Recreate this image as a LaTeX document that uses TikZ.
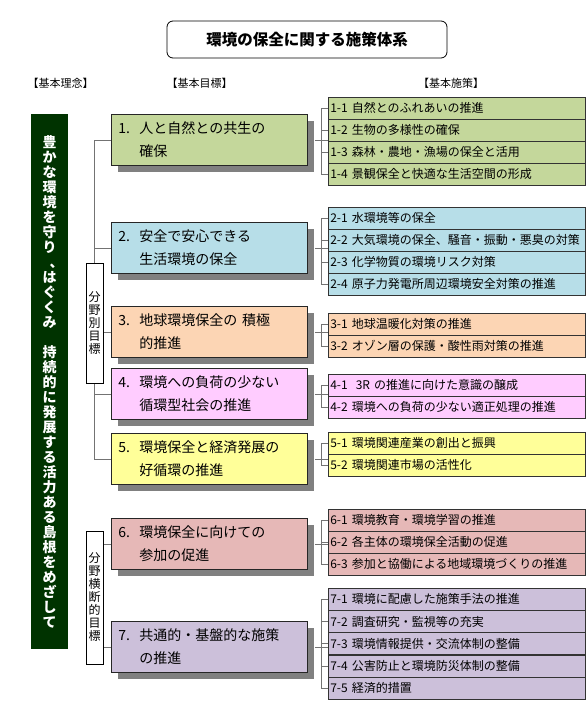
\documentclass[tikz,border=0pt]{standalone}
\usepackage{fontspec}
\setmainfont{Noto Sans CJK JP}
\usetikzlibrary{shadows}

\definecolor{kusa}{RGB}{196,215,155}
\definecolor{mizu}{RGB}{183,222,232}
\definecolor{dai}{RGB}{252,213,180}
\definecolor{momo}{RGB}{255,204,255}
\definecolor{ki}{RGB}{255,255,153}
\definecolor{bara}{RGB}{230,184,183}
\definecolor{fuji}{RGB}{204,192,218}
\definecolor{fukami}{RGB}{0,51,0}

\newcommand{\bango}[1]{\makebox[21pt][l]{#1}}
\newcommand{\sage}{\hspace*{21pt}}

\tikzset{
  mokuhyo/.style={draw=black!85, line width=0.8pt, anchor=north west,
    minimum width=196pt, minimum height=51pt, text width=182pt, inner xsep=7pt,
    align=left, font=\fontsize{14}{23}\selectfont,
    drop shadow={shadow xshift=7pt, shadow yshift=-7pt, fill=black!50, opacity=1}},
  shisaku/.style={draw=black!80, line width=0.6pt, anchor=north west,
    minimum width=257pt, minimum height=22pt, text width=253pt, inner xsep=2pt,
    inner ysep=0pt, align=left, font=\fontsize{12}{14}\selectfont},
  sen/.style={draw=black!55, line width=0.8pt},
  midashi/.style={font=\fontsize{11}{13}\selectfont},
  bunya/.style={draw=black, fill=white, line width=0.6pt, minimum width=17pt,
    inner sep=0pt, align=center, font=\fontsize{12}{13}\selectfont}
}

\begin{document}
\begin{tikzpicture}[x=1pt,y=-1pt]
  \useasboundingbox (0,0) rectangle (587,706);
  %表題
  \node[draw, line width=0.8pt, rounded corners=6pt, minimum width=280pt, minimum height=37pt,
    font=\bfseries\fontsize{15.5}{18}\selectfont] (daimei) at (307,39.5) {環境の保全に関する施策体系};
  \node[midashi] (m1) at (60.5,83) {【基本理念】};
  \node[midashi] (m2) at (199.5,83) {【基本目標】};
  \node[midashi] (m3) at (451,83) {【基本施策】};

  %基本理念
  \node[fill=fukami, anchor=north west, minimum width=37pt, minimum height=535pt, inner sep=0pt,
    text=white, align=center, font=\bfseries\fontsize{14}{15}\selectfont] (rinen) at (31,114)
    {豊\\か\\な\\環\\境\\を\\守\\り\\\makebox[1em][l]{\hspace{0.5em}、}\\は\\ぐ\\く\\み\\\mbox{}\\
     持\\続\\的\\に\\発\\展\\す\\る\\活\\力\\あ\\る\\島\\根\\を\\め\\ざ\\し\\て};

  %基本目標
  \node[mokuhyo, fill=kusa] (g1) at (111,114) {\bango{1.}人と自然との共生の\\\sage 確保};
  \node[mokuhyo, fill=mizu] (g2) at (111,222) {\bango{2.}安全で安心できる\\\sage 生活環境の保全};
  \node[mokuhyo, fill=dai]  (g3) at (111,306) {\bango{3.}地球環境保全の 積極\\\sage 的推進};
  \node[mokuhyo, fill=momo] (g4) at (111,368) {\bango{4.}環境への負荷の少ない\\\sage 循環型社会の推進};
  \node[mokuhyo, fill=ki]   (g5) at (111,433) {\bango{5.}環境保全と経済発展の\\\sage 好循環の推進};
  \node[mokuhyo, fill=bara] (g6) at (111,518) {\bango{6.}環境保全に向けての\\\sage 参加の促進};
  \node[mokuhyo, fill=fuji] (g7) at (111,621) {\bango{7.}共通的・基盤的な施策\\\sage の推進};

  %基本施策
  \foreach \t [count=\n] in {1-1 自然とのふれあいの推進, 1-2 生物の多様性の確保,
      1-3 森林・農地・漁場の保全と活用, 1-4 景観保全と快適な生活空間の形成}
    \node[shisaku, fill=kusa] (p1\n) at (328,{97+22*(\n-1)}) {\t};
  \foreach \t [count=\n] in {2-1 水環境等の保全, 2-2 大気環境の保全、騒音・振動・悪臭の対策,
      2-3 化学物質の環境リスク対策, 2-4 原子力発電所周辺環境安全対策の推進}
    \node[shisaku, fill=mizu] (p2\n) at (328,{207+22*(\n-1)}) {\t};
  \foreach \t [count=\n] in {3-1 地球温暖化対策の推進, 3-2 オゾン層の保護・酸性雨対策の推進}
    \node[shisaku, fill=dai] (p3\n) at (328,{313+22*(\n-1)}) {\t};
  \foreach \t [count=\n] in {4-1\ \ 3R の推進に向けた意識の醸成, 4-2 環境への負荷の少ない適正処理の推進}
    \node[shisaku, fill=momo] (p4\n) at (328,{374+22*(\n-1)}) {\t};
  \foreach \t [count=\n] in {5-1 環境関連産業の創出と振興, 5-2 環境関連市場の活性化}
    \node[shisaku, fill=ki] (p5\n) at (328,{432+22*(\n-1)}) {\t};
  \foreach \t [count=\n] in {6-1 環境教育・環境学習の推進, 6-2 各主体の環境保全活動の促進,
      6-3 参加と協働による地域環境づくりの推進}
    \node[shisaku, fill=bara] (p6\n) at (328,{509+22*(\n-1)}) {\t};
  \foreach \t [count=\n] in {7-1 環境に配慮した施策手法の推進, 7-2 調査研究・監視等の充実,
      7-3 環境情報提供・交流体制の整備, 7-4 公害防止と環境防災体制の整備, 7-5 経済的措置}
    \node[shisaku, fill=fuji] (p7\n) at (328,{588+22.2*(\n-1)}) {\t};

  %目標の幹
  \draw[sen] (g1.west) -- ++(-17,0) coordinate (miki) |- (g5.west);
  \foreach \i in {2,3,4}
    \draw[sen] (g\i.west) -- (g\i.west -| miki);
  \draw[sen] (g6.west) -- ++(-17,0) |- (g7.west);
  \node[bunya, minimum height=120pt] (bun1) at (94.5,323) {分\\野\\別\\目\\標};
  \node[bunya, minimum height=133pt] (bun2) at (94.5,597.5) {分\\野\\横\\断\\的\\目\\標};

  %目標から施策へ
  \foreach \g/\m in {1/4,2/4,3/2,4/2,5/2,6/3,7/5}{
    \draw[sen] (p\g1.west) -- ++(-7,0) coordinate (k\g) |- (p\g\m.west);
    \foreach \n in {2,...,\m}
      \draw[sen] (p\g\n.west) -- (p\g\n.west -| k\g);
    \draw[sen] ([xshift=7pt]g\g.east) -- ([xshift=7pt]g\g.east -| k\g);
  }
\end{tikzpicture}
\end{document}
